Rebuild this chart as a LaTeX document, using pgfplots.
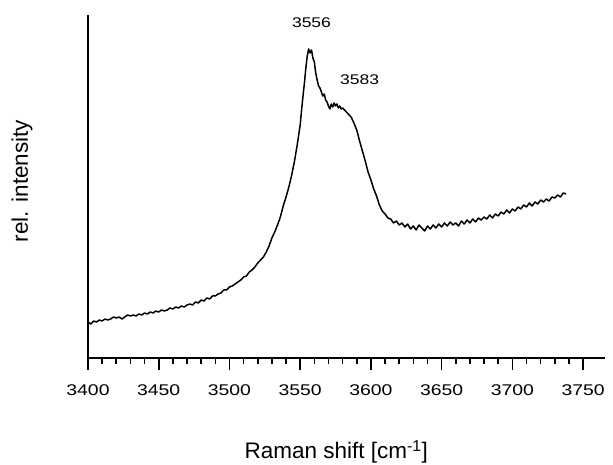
\documentclass[border=0pt]{standalone}
\usepackage{fontspec}
\setmainfont{Liberation Sans}
\newfontfamily\widefont[FakeStretch=1.25]{Liberation Sans}
\usepackage{pgfplots}
\pgfplotsset{compat=1.18}
\begin{document}
\begin{tikzpicture}
\useasboundingbox (-88pt,-107pt) rectangle (525pt,358pt);
\begin{axis}[
  at={(0pt,0pt)}, anchor=origin,
  scale only axis, width=517pt, height=343pt,
  xmin=3400, xmax=3765.5, ymin=0, ymax=343,
  axis x line*=bottom, axis y line*=left,
  axis line style={line width=1.6pt},
  ytick=\empty,
  xtick={3400,3450,...,3750},
  minor tick num=4,
  tick align=outside,
  major tick length=12pt, minor tick length=6.5pt,
  every tick/.style={line width=1.6pt, black},
  /pgf/number format/assume math mode=true,
  /pgf/number format/1000 sep={},
  xticklabel style={font=\widefont\fontsize{15.5}{18}\selectfont, yshift=-11pt},
  xlabel={Raman shift [cm\textsuperscript{-1}]},
  ylabel={rel. intensity},
  label style={font=\fontsize{22.5}{26}\selectfont},
  xlabel style={at={(axis description cs:0.48,-0.294)}, anchor=base},
  ylabel style={at={(axis description cs:-0.1277,0.516)}, anchor=center},
  clip=false]
\addplot[black, line width=1.5pt, line join=round] coordinates {
(3400,36) (3402,34) (3404,37) (3406,36) (3408,38) (3410,37) (3412,39) (3414,38)
(3416,39) (3418,41) (3420,40) (3422,41) (3424,39) (3426,41) (3428,43) (3430,42)
(3432,43) (3434,42) (3436,44) (3438,43) (3440,45) (3442,44) (3444,46) (3446,45)
(3448,47) (3450,46) (3452,48) (3454,47) (3456,48) (3458,50) (3460,49) (3462,51)
(3464,50) (3466,52) (3468,51) (3470,53) (3472,54) (3474,53) (3476,56) (3478,55)
(3480,58) (3482,57) (3484,60) (3486,59) (3488,62) (3490,62) (3492,64) (3494,65)
(3496,68) (3498,68) (3500,71) (3502,72) (3504,74) (3506,76) (3508,78) (3510,81)
(3512,82) (3514,86) (3516,88) (3518,91) (3520,95) (3522,98) (3524,101) (3526,106)
(3528,112) (3530,120) (3532,126) (3534,133) (3536,141) (3538,152) (3540,161)
(3542,171) (3544,183) (3546,197) (3548,214) (3550,233) (3551,248) (3552,262)
(3553,275) (3554,290) (3555,302) (3556,309) (3557,305) (3558,308) (3559,300)
(3560,296) (3561,285) (3562,278) (3563,272) (3564,270) (3565,266) (3566,262)
(3567,264) (3568,258) (3569,256) (3570,252) (3571,249) (3572,254) (3573,251)
(3574,255) (3575,252) (3576,254) (3577,250) (3578,252) (3579,249) (3580,250)
(3582,247) (3584,244) (3586,241) (3588,235) (3590,228) (3592,217) (3594,207)
(3596,197) (3598,186) (3600,178) (3602,169) (3604,162) (3606,153) (3608,147)
(3610,144) (3612,140) (3614,139) (3616,135) (3618,137) (3620,133) (3622,135)
(3624,131) (3626,134) (3628,129) (3630,132) (3632,128) (3634,133) (3636,130)
(3638,127) (3640,132) (3642,129) (3644,133) (3646,130) (3648,134) (3650,131)
(3652,135) (3654,132) (3656,136) (3658,133) (3660,135) (3662,132) (3664,137)
(3666,134) (3668,138) (3670,135) (3672,139) (3674,136) (3676,140) (3678,138)
(3680,141) (3682,139) (3684,143) (3686,140) (3688,144) (3690,142) (3692,146)
(3694,144) (3696,148) (3698,145) (3700,149) (3702,147) (3704,151) (3706,149)
(3708,153) (3710,151) (3712,155) (3714,152) (3716,156) (3718,154) (3720,158)
(3722,156) (3724,159) (3726,157) (3728,161) (3730,160) (3732,163) (3734,161)
(3736,165) (3738,164)
};
\node[font=\widefont\fontsize{14}{16}\selectfont] at (axis cs:3558,335) {3556};
\node[font=\widefont\fontsize{14}{16}\selectfont] at (axis cs:3592,278) {3583};
\end{axis}
\end{tikzpicture}
\end{document}
